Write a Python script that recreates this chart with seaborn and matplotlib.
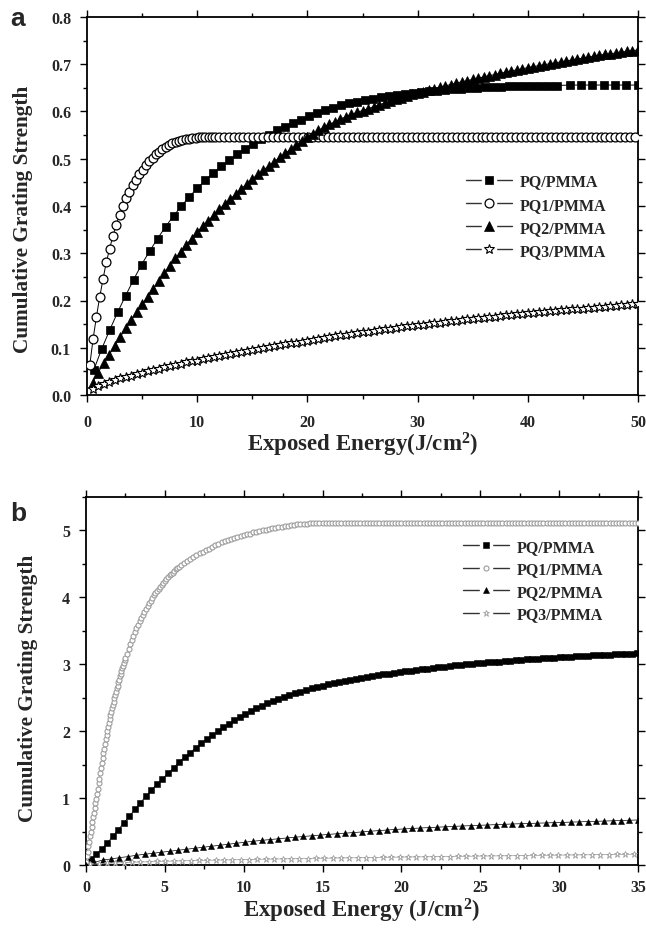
import numpy as np
import matplotlib
matplotlib.use("Agg")
import matplotlib.pyplot as plt
from matplotlib.lines import Line2D
from matplotlib.legend_handler import HandlerTuple
from matplotlib.ticker import MultipleLocator, FormatStrFormatter
import seaborn as sns

# ---------------- data: panel a ----------------
labels = ["PQ/PMMA", "PQ1/PMMA", "PQ2/PMMA", "PQ3/PMMA"]

a_pq_x = np.concatenate([np.linspace(0.6, 42.65, 59), np.linspace(43.8, 49.98, 7)])
a_pq_y = [0.052, 0.097, 0.137, 0.175, 0.210, 0.244, 0.276, 0.304, 0.331, 0.356,
          0.379, 0.400, 0.420, 0.438, 0.455, 0.470, 0.484, 0.497, 0.509, 0.521,
          0.532, 0.542, 0.551, 0.560, 0.568, 0.576, 0.583, 0.590, 0.597, 0.603,
          0.608, 0.613, 0.617, 0.621, 0.624, 0.627, 0.630, 0.633, 0.635, 0.637,
          0.639, 0.641, 0.643, 0.644, 0.646, 0.647, 0.648, 0.649, 0.650, 0.651,
          0.652, 0.652, 0.653, 0.653, 0.654, 0.654, 0.655, 0.655, 0.655,
          0.656, 0.656, 0.656, 0.656, 0.656, 0.656, 0.656]

a_pq1_x = np.concatenate([np.linspace(0.25, 11.95, 40), np.linspace(12.4, 49.75, 84)])
a_pq1_y = [0.063, 0.118, 0.165, 0.207, 0.245, 0.281, 0.309, 0.337, 0.360, 0.381,
           0.399, 0.416, 0.430, 0.444, 0.456, 0.467, 0.477, 0.487, 0.495, 0.502,
           0.509, 0.515, 0.521, 0.525, 0.529, 0.533, 0.535, 0.538, 0.540, 0.541,
           0.542, 0.543, 0.544, 0.545, 0.545, 0.546, 0.546, 0.546, 0.547, 0.547,
           0.547, 0.547, 0.547, 0.547, 0.547, 0.547, 0.547, 0.547, 0.547, 0.547, 0.547, 0.547,
           0.547, 0.547, 0.547, 0.547, 0.547, 0.547, 0.547, 0.547, 0.547, 0.547, 0.547, 0.547,
           0.547, 0.547, 0.547, 0.547, 0.547, 0.547, 0.547, 0.547, 0.547, 0.547, 0.547, 0.547,
           0.547, 0.547, 0.547, 0.547, 0.547, 0.547, 0.547, 0.547, 0.547, 0.547, 0.547, 0.547,
           0.547, 0.547, 0.547, 0.547, 0.547, 0.547, 0.547, 0.547, 0.547, 0.547, 0.547, 0.547,
           0.547, 0.547, 0.547, 0.547, 0.547, 0.547, 0.547, 0.547, 0.547, 0.547, 0.547, 0.547,
           0.547, 0.547, 0.547, 0.547, 0.547, 0.547, 0.547, 0.547, 0.547, 0.547, 0.547, 0.547]

a_pq2_x = np.linspace(0.5, 50.0, 100)
a_pq2_y = [0.026, 0.047, 0.067, 0.085, 0.103, 0.122, 0.141, 0.158, 0.175, 0.192,
           0.208, 0.224, 0.241, 0.258, 0.274, 0.289, 0.303, 0.318, 0.331, 0.345,
           0.357, 0.369, 0.381, 0.393, 0.404, 0.414, 0.426, 0.436, 0.447, 0.457,
           0.467, 0.476, 0.485, 0.494, 0.503, 0.512, 0.520, 0.529, 0.537, 0.545,
           0.553, 0.560, 0.567, 0.573, 0.578, 0.584, 0.589, 0.594, 0.598, 0.602,
           0.606, 0.610, 0.614, 0.618, 0.622, 0.626, 0.629, 0.633, 0.636, 0.639,
           0.642, 0.645, 0.648, 0.651, 0.654, 0.657, 0.660, 0.663, 0.665, 0.668,
           0.671, 0.673, 0.676, 0.678, 0.681, 0.683, 0.686, 0.688, 0.690, 0.693,
           0.695, 0.697, 0.699, 0.701, 0.703, 0.705, 0.707, 0.709, 0.711, 0.713,
           0.715, 0.717, 0.719, 0.721, 0.722, 0.724, 0.726, 0.727, 0.729, 0.730]

a_pq3_x = np.linspace(0.5, 50.0, 100)
a_pq3_y = [0.012, 0.018, 0.023, 0.027, 0.031, 0.035, 0.038, 0.041, 0.044, 0.047,
           0.050, 0.053, 0.056, 0.059, 0.061, 0.064, 0.066, 0.069, 0.071, 0.073,
           0.076, 0.078, 0.080, 0.082, 0.085, 0.087, 0.089, 0.091, 0.093, 0.095,
           0.097, 0.099, 0.101, 0.103, 0.105, 0.107, 0.109, 0.111, 0.113, 0.115,
           0.117, 0.119, 0.120, 0.122, 0.124, 0.126, 0.127, 0.129, 0.131, 0.133,
           0.134, 0.136, 0.137, 0.139, 0.140, 0.142, 0.143, 0.145, 0.146, 0.148,
           0.149, 0.151, 0.152, 0.153, 0.155, 0.156, 0.157, 0.159, 0.160, 0.161,
           0.163, 0.164, 0.165, 0.166, 0.168, 0.169, 0.170, 0.171, 0.172, 0.173,
           0.174, 0.175, 0.176, 0.177, 0.178, 0.179, 0.180, 0.181, 0.182, 0.183,
           0.184, 0.185, 0.186, 0.187, 0.188, 0.189, 0.190, 0.191, 0.192, 0.193]

# ---------------- data: panel b ----------------
b_pq_x = np.linspace(0.3, 34.95, 100)
b_pq_y = [0.09, 0.16, 0.24, 0.33, 0.43, 0.53, 0.63, 0.73, 0.83, 0.93,
          1.03, 1.12, 1.21, 1.29, 1.37, 1.45, 1.54, 1.61, 1.68, 1.75,
          1.82, 1.88, 1.94, 2.00, 2.06, 2.11, 2.16, 2.21, 2.26, 2.30,
          2.34, 2.38, 2.42, 2.45, 2.48, 2.51, 2.54, 2.565, 2.59, 2.615,
          2.64, 2.66, 2.68, 2.70, 2.72, 2.74, 2.755, 2.77, 2.785, 2.80,
          2.815, 2.825, 2.84, 2.85, 2.86, 2.875, 2.885, 2.895, 2.905, 2.915,
          2.925, 2.935, 2.945, 2.955, 2.965, 2.975, 2.985, 2.99, 3.00, 3.005,
          3.013, 3.02, 3.027, 3.033, 3.04, 3.047, 3.053, 3.06, 3.066, 3.072,
          3.078, 3.084, 3.09, 3.095, 3.10, 3.105, 3.11, 3.115, 3.12, 3.124,
          3.128, 3.132, 3.136, 3.14, 3.144, 3.148, 3.152, 3.156, 3.16, 3.164]

b_pq1_x = np.concatenate([np.linspace(0.0, 2.5, 51), np.linspace(2.6, 6.0, 35),
                          np.linspace(6.2, 35.0, 145)])
b_pq1_y = [0.05, 0.13, 0.20, 0.28, 0.35, 0.43, 0.50, 0.57, 0.64, 0.71,
           0.78, 0.85, 0.92, 0.99, 1.06, 1.14, 1.22, 1.29, 1.37, 1.45,
           1.52, 1.60, 1.67, 1.74, 1.81, 1.88, 1.94, 2.00, 2.06, 2.12,
           2.18, 2.24, 2.29, 2.34, 2.39, 2.44, 2.49, 2.54, 2.59, 2.64,
           2.68, 2.73, 2.77, 2.82, 2.86, 2.90, 2.94, 2.98, 3.02, 3.06, 3.09,
           3.16, 3.23, 3.30, 3.36, 3.42, 3.48, 3.54, 3.59, 3.64, 3.69,
           3.74, 3.78, 3.83, 3.87, 3.91, 3.95, 3.99, 4.03, 4.06, 4.10,
           4.13, 4.16, 4.19, 4.22, 4.25, 4.28, 4.30, 4.33, 4.35, 4.37,
           4.40, 4.42, 4.44, 4.46, 4.48,
           4.51, 4.54, 4.57, 4.60, 4.63, 4.66, 4.68, 4.71, 4.73, 4.76,
           4.78, 4.80, 4.82, 4.84, 4.86, 4.87, 4.89, 4.90, 4.92, 4.93,
           4.94, 4.95, 4.97, 4.98, 4.99, 5.00, 5.01, 5.02, 5.03, 5.04,
           5.05, 5.05, 5.06, 5.07, 5.08, 5.08, 5.09, 5.09, 5.10, 5.10,
           5.11, 5.11, 5.11, 5.11, 5.11, 5.11, 5.11, 5.11, 5.11, 5.11, 5.11, 5.11, 5.11, 5.11, 5.11,
           5.11, 5.11, 5.11, 5.11, 5.11, 5.11, 5.11, 5.11, 5.11, 5.11, 5.11, 5.11, 5.11, 5.11, 5.11,
           5.11, 5.11, 5.11, 5.11, 5.11, 5.11, 5.11, 5.11, 5.11, 5.11, 5.11, 5.11, 5.11, 5.11, 5.11,
           5.11, 5.11, 5.11, 5.11, 5.11, 5.11, 5.11, 5.11, 5.11, 5.11, 5.11, 5.11, 5.11, 5.11, 5.11,
           5.11, 5.11, 5.11, 5.11, 5.11, 5.11, 5.11, 5.11, 5.11, 5.11, 5.11, 5.11, 5.11, 5.11, 5.11,
           5.11, 5.11, 5.11, 5.11, 5.11, 5.11, 5.11, 5.11, 5.11, 5.11, 5.11, 5.11, 5.11, 5.11, 5.11,
           5.11, 5.11, 5.11, 5.11, 5.11, 5.11, 5.11, 5.11, 5.11, 5.11, 5.11, 5.11, 5.11, 5.11, 5.11]

b_pq2_x = np.linspace(0.0, 34.98, 67)
b_pq2_y = [0.00, 0.04, 0.075, 0.09, 0.11, 0.125, 0.145, 0.16, 0.175, 0.19,
           0.205, 0.22, 0.235, 0.25, 0.265, 0.28, 0.295, 0.31, 0.325, 0.34,
           0.355, 0.368, 0.38, 0.392, 0.404, 0.415, 0.426, 0.437, 0.447, 0.457,
           0.467, 0.476, 0.485, 0.494, 0.505, 0.514, 0.523, 0.531, 0.539, 0.546,
           0.553, 0.559, 0.565, 0.571, 0.577, 0.583, 0.588, 0.593, 0.598, 0.603,
           0.608, 0.613, 0.617, 0.621, 0.625, 0.629, 0.633, 0.637, 0.641, 0.645,
           0.649, 0.653, 0.657, 0.661, 0.665, 0.669, 0.673]

b_pq3_x = np.linspace(0.27, 34.72, 66)
b_pq3_y = [0.010, 0.018, 0.025, 0.030, 0.035, 0.040, 0.045, 0.049, 0.053, 0.056,
           0.059, 0.062, 0.065, 0.068, 0.070, 0.073, 0.075, 0.078, 0.080, 0.082,
           0.084, 0.087, 0.089, 0.091, 0.093, 0.095, 0.097, 0.099, 0.101, 0.103,
           0.105, 0.107, 0.108, 0.110, 0.112, 0.114, 0.116, 0.117, 0.119, 0.121,
           0.122, 0.124, 0.126, 0.127, 0.129, 0.130, 0.132, 0.134, 0.135, 0.137,
           0.138, 0.140, 0.141, 0.143, 0.144, 0.146, 0.147, 0.149, 0.150, 0.152,
           0.153, 0.155, 0.156, 0.158, 0.159, 0.161]

# ---------------- style ----------------
sns.set_style("ticks")
plt.rcParams["font.family"] = ["Liberation Serif", "DejaVu Serif"]
plt.rcParams["font.weight"] = "bold"
plt.rcParams["mathtext.fontset"] = "custom"
plt.rcParams["mathtext.rm"] = "Liberation Serif:bold"
plt.rcParams["mathtext.it"] = "Liberation Serif:bold"
plt.rcParams["mathtext.bf"] = "Liberation Serif:bold"
plt.rcParams["mathtext.default"] = "rm"

fig = plt.figure(figsize=(6.46, 9.29), dpi=100)
ax_a = fig.add_axes([87 / 646, 1 - 396 / 929, 551 / 646, 378 / 929])
ax_b = fig.add_axes([86 / 646, 1 - 866 / 929, 552 / 646, 368 / 929])

GRAY = "#9c9c9c"


def draw(ax, x, y, marker, ms, mfc, mec, mew, lw=0.7, lc="black", z=2):
    assert len(x) == len(y), (len(x), len(y))
    sns.lineplot(x=np.asarray(x), y=np.asarray(y), ax=ax, color=lc, lw=lw,
                 marker=marker, markersize=ms, markerfacecolor=mfc,
                 markeredgecolor=mec, markeredgewidth=mew, estimator=None,
                 sort=False, legend=False, zorder=z)


# panel a series
sty_a = [
    dict(marker="s", ms=5.8, mfc="black", mec="black", mew=0.5),
    dict(marker="o", ms=6.4, mfc="white", mec="black", mew=0.9),
    dict(marker="^", ms=7.0, mfc="black", mec="black", mew=0.5),
    dict(marker="*", ms=7.8, mfc="white", mec="black", mew=0.8),
]
draw(ax_a, a_pq_x, a_pq_y, z=2, **sty_a[0])
draw(ax_a, a_pq1_x, a_pq1_y, z=3, **sty_a[1])
draw(ax_a, a_pq2_x, a_pq2_y, z=4, **sty_a[2])
draw(ax_a, a_pq3_x, a_pq3_y, z=5, **sty_a[3])

# panel b series
sty_b = [
    dict(marker="s", ms=4.3, mfc="black", mec="black", mew=0.4),
    dict(marker="o", ms=3.6, mfc="white", mec=GRAY, mew=0.8),
    dict(marker="^", ms=4.4, mfc="black", mec="black", mew=0.4),
    dict(marker="*", ms=4.8, mfc="white", mec=GRAY, mew=0.6),
]
draw(ax_b, b_pq_x, b_pq_y, lw=0.5, z=2, **sty_b[0])
draw(ax_b, b_pq1_x, b_pq1_y, lw=0.5, lc=GRAY, z=3, **sty_b[1])
draw(ax_b, b_pq2_x, b_pq2_y, lw=0.5, z=4, **sty_b[2])
draw(ax_b, b_pq3_x, b_pq3_y, lw=0.5, lc=GRAY, z=5, **sty_b[3])


def leg_handles(styles, gap_ms):
    hs = []
    for st in styles:
        line = Line2D([], [], color="#333333", lw=1.0)
        gap = Line2D([], [], ls="none", marker="s", markersize=gap_ms,
                     markerfacecolor="white", markeredgecolor="white")
        mk = Line2D([], [], ls="none", marker=st["marker"], markersize=st["ms"],
                    markerfacecolor=st["mfc"], markeredgecolor=st["mec"],
                    markeredgewidth=st["mew"])
        hs.append((line, gap, mk))
    return hs


for ax, styles, xmax, ymax, gap, anchor, xpad, lsp in [
        (ax_a, sty_a, 50, 0.8, 10, (0.688, 0.586), 8.5, 0.45),
        (ax_b, sty_b, 35, 5.5, 9, (0.683, 0.886), 5.0, 0.40)]:
    ax.set_xlim(0, xmax)
    ax.set_ylim(0, ymax)
    for sp in ax.spines.values():
        sp.set_visible(True)
        sp.set_linewidth(1.3)
        sp.set_color("black")
    ax.tick_params(which="both", direction="out", top=True, right=True,
                   labeltop=False, labelright=False, width=1.0, color="black")
    ax.tick_params(which="major", length=5, labelsize=11.5)
    ax.tick_params(axis="y", which="major", pad=6.5)
    ax.tick_params(axis="x", which="major", pad=xpad)
    ax.tick_params(which="minor", length=3)
    ax.legend(leg_handles(styles, gap), labels, loc="upper left",
              bbox_to_anchor=anchor, frameon=False,
              handlelength=2.9, handletextpad=0.45, labelspacing=lsp,
              borderpad=0, borderaxespad=0,
              handler_map={tuple: HandlerTuple(ndivide=1)},
              prop={"family": "Liberation Serif", "weight": "bold", "size": 11.5})

ax_a.xaxis.set_major_locator(MultipleLocator(10))
ax_a.xaxis.set_minor_locator(MultipleLocator(5))
ax_a.yaxis.set_major_locator(MultipleLocator(0.1))
ax_a.yaxis.set_minor_locator(MultipleLocator(0.05))
ax_a.yaxis.set_major_formatter(FormatStrFormatter("%.1f"))

ax_b.xaxis.set_major_locator(MultipleLocator(5))
ax_b.xaxis.set_minor_locator(MultipleLocator(2.5))
ax_b.yaxis.set_major_locator(MultipleLocator(1))
ax_b.yaxis.set_minor_locator(MultipleLocator(0.5))

for ax in (ax_a, ax_b):
    for lab in ax.get_xticklabels() + ax.get_yticklabels():
        lab.set_fontweight("bold")

ylab_kw = dict(fontsize=15.3, fontweight="bold", family="Liberation Serif")
xlab_kw = dict(fontsize=16.5, fontweight="bold", family="Liberation Serif")
ax_a.set_ylabel("Cumulative Grating Strength", **ylab_kw)
ax_a.yaxis.set_label_coords(-0.098, 0.466)
ax_a.set_xlabel("Exposed Energy(J/cm$^{2}$)", labelpad=0, **xlab_kw)
ax_b.set_ylabel("Cumulative Grating Strength", **ylab_kw)
ax_b.yaxis.set_label_coords(-0.087, 0.484)
ax_b.set_xlabel("Exposed Energy (J/cm$^{2}$)", labelpad=0.5, **xlab_kw)

fig.text(10 / 646, 1 - 26 / 929, "a", fontsize=19, fontweight="bold",
         family="Liberation Sans")
fig.text(10 / 646, 1 - 521 / 929, "b", fontsize=19, fontweight="bold",
         family="Liberation Sans")

fig.savefig("out.png", dpi=100)
